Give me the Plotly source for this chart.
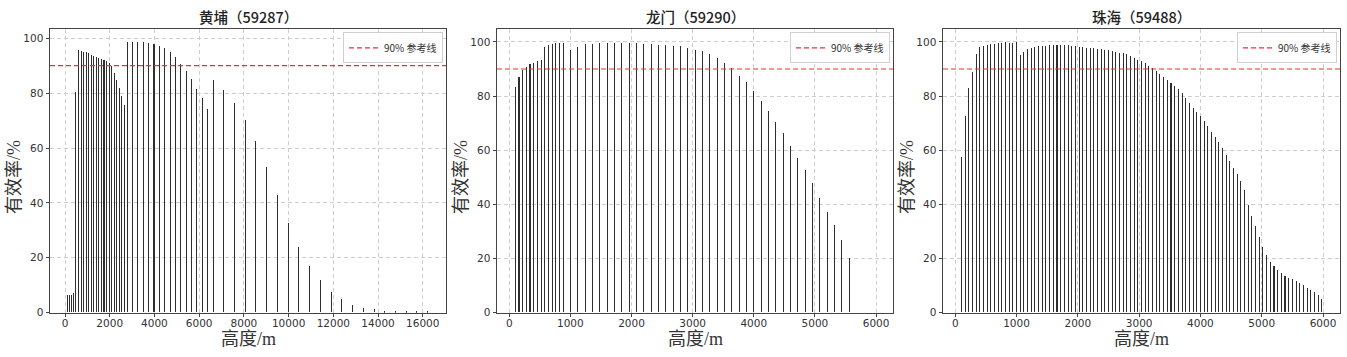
import plotly.graph_objects as go

W, H = 1347, 357

# ---------------- data ----------------
# Panel 1: 黄埔 (59287)
hp_x_low = [120, 210, 300, 390]
hp_v_low = [6.3, 6.3, 6.4, 6.9]
hp_x_g1 = [490 + 114 * i for i in range(20)]
hp_v_g1 = [80.1, 95.5, 95.3, 95.0, 94.7, 94.3, 93.7, 93.2, 92.9, 92.5,
           92.2, 91.8, 91.4, 90.8, 89.7, 87.3, 84.7, 81.8, 78.8, 75.5]
hp_x_g2 = [2780 + 240 * i for i in range(16)]
hp_v_g2 = [98.3, 98.3, 98.3, 98.3, 98.1, 97.6, 97.1, 96.1, 94.9, 92.9,
           90.6, 88.0, 84.8, 81.2, 77.9, 73.9]
hp_x_g3 = [6620 + 480 * i for i in range(21)]
hp_v_g3 = [84.7, 81.0, 76.2, 69.9, 62.3, 52.9, 42.6, 32.4, 23.8, 16.9,
           11.6, 7.5, 4.7, 2.5, 1.7, 1.0, 0.6, 0.4, 0.3, 0.2, 0.2]
hp_x = hp_x_low + hp_x_g1 + hp_x_g2 + hp_x_g3
hp_v = hp_v_low + hp_v_g1 + hp_v_g2 + hp_v_g3

# Panel 2: 龙门 (59290)
lm_x_g1 = [100 + 60 * i for i in range(14)]
lm_v_g1 = [83.0, 87.0, 89.5, 90.5, 91.7, 92.2, 92.7, 93.3, 98.0, 98.8,
           99.2, 99.3, 99.4, 99.3]
lm_x_g2 = [1000 + 120 * i for i in range(39)]
lm_v_g2 = [96.8, 98.0, 98.9, 99.2, 99.5, 99.5, 99.6, 99.6, 99.5, 99.3,
           99.2, 99.0, 98.8, 98.6, 98.4, 98.2, 97.6, 97.0, 96.3, 95.4,
           93.8, 91.9, 90.1, 87.4, 84.9, 81.6, 78.1, 74.4, 70.3, 66.1,
           61.5, 57.0, 52.7, 47.6, 42.1, 37.1, 32.2, 26.5, 20.0]
lm_x = lm_x_g1 + lm_x_g2
lm_v = lm_v_g1 + lm_v_g2

# Panel 3: 珠海 (59488)
zh_x_g1 = [100 + 60 * i for i in range(16)]
zh_v_g1 = [57.3, 72.5, 82.9, 88.6, 95.4, 97.8, 98.4, 98.7, 98.9, 99.1,
           99.4, 99.5, 99.7, 99.6, 99.6, 99.8]
zh_x_g2 = [1060 + 60 * i for i in range(83)]
zh_v_g2 = [95.1, 96.0, 97.1, 97.6, 97.9, 98.2, 98.3, 98.4, 98.6, 98.7,
           98.7, 98.7, 98.7, 98.6, 98.4, 98.2, 98.0, 97.9, 97.7, 97.6,
           97.4, 97.3, 97.1, 96.9, 96.7, 96.4, 96.2, 95.9, 95.6, 95.2,
           94.6, 94.0, 93.3, 92.6, 91.9, 91.0, 90.1, 89.0, 87.9, 86.9,
           85.9, 84.8, 83.7, 82.4, 81.0, 79.0, 77.3, 75.6, 74.0, 72.3,
           70.5, 68.6, 66.7, 64.7, 62.8, 60.5, 57.9, 55.7, 53.4, 51.0,
           48.4, 45.1, 39.5, 35.7, 31.7, 27.9, 23.9, 21.2, 18.7, 16.9,
           15.6, 14.6, 13.5, 12.8, 12.2, 11.5, 10.8, 10.0, 9.1, 8.2,
           7.5, 6.3, 4.8]
zh_x = zh_x_g1 + zh_x_g2
zh_v = zh_v_g1 + zh_v_g2

titles = ["黄埔（59287）", "龙门（59290）", "珠海（59488）"]
ref_level = 90
ref_name = "90% 参考线"
x_label = "高度/m"
y_label = "有效率/%"
y_ticks = [0, 20, 40, 60, 80, 100]
x_ticks_1 = [0, 2000, 4000, 6000, 8000, 10000, 12000, 14000, 16000]
x_ticks_23 = [0, 1000, 2000, 3000, 4000, 5000, 6000]

# ---------------- layout ----------------
panels = [
    dict(x=hp_x, v=hp_v, xr=[-671, 17039], yr=[0, 103.2], ticks=x_ticks_1,
         dom=[50, 446], bw=2),
    dict(x=lm_x, v=lm_v, xr=[-200, 6277], yr=[0, 104.6], ticks=x_ticks_23,
         dom=[497, 893], bw=0.8),
    dict(x=zh_x, v=zh_v, xr=[-200, 6277], yr=[0, 104.6], ticks=x_ticks_23,
         dom=[943, 1340], bw=0.8),
]
top_px, bot_px = 30, 318

fig = go.Figure()
layout = dict(
    width=W, height=H, margin=dict(l=0, r=0, t=0, b=0),
    paper_bgcolor="white", plot_bgcolor="white",
    font=dict(family="Noto Sans CJK SC, DejaVu Sans", size=11, color="#333"),
    bargap=0, barmode="overlay", annotations=[],
)
axis_font = dict(family="DejaVu Sans, Noto Sans CJK SC", size=10.5, color="#333")
for i, p in enumerate(panels):
    n = "" if i == 0 else str(i + 1)
    xa, ya = "x" + n, "y" + n
    lg = "legend" if i == 0 else "legend" + str(i + 1)
    fig.add_trace(go.Bar(
        x=p["x"], y=p["v"], width=p["bw"], xaxis=xa, yaxis=ya,
        marker=dict(color="#2e2e2e", line=dict(width=0)),
        showlegend=False, hoverinfo="x+y"))
    fig.add_trace(go.Scatter(
        x=p["xr"], y=[ref_level, ref_level], xaxis=xa, yaxis=ya, mode="lines",
        line=dict(color="#e8332f", width=1.2, dash="5px,3px"),
        name=ref_name, legend=lg, showlegend=True))
    d0, d1 = p["dom"][0] / W, p["dom"][1] / W
    common = dict(showline=True, linecolor="#444", linewidth=1, mirror=True,
                  ticks="outside", ticklen=3.5, tickcolor="#444",
                  showgrid=True, gridcolor="#cfcfcf", griddash="4px,3px",
                  gridwidth=0.8, zeroline=False, tickfont=axis_font,
                  tickformat="d")
    layout["xaxis" + n] = dict(domain=[d0, d1], range=p["xr"], tickvals=p["ticks"],
                               anchor=ya, ticklabelstandoff=-3, **common)
    layout["yaxis" + n] = dict(domain=[1 - bot_px / H, 1 - top_px / H], range=p["yr"],
                               tickvals=y_ticks, anchor=xa, **common)
    layout[lg] = dict(x=(p["dom"][1] - 3) / W, y=1 - 33 / H, xanchor="right",
                      yanchor="top", bgcolor="rgba(255,255,255,0.9)",
                      bordercolor="#d0d0d0", borderwidth=1,
                      font=dict(family="Noto Sans CJK SC", size=10, color="#333"),
                      itemwidth=30, tracegroupgap=0)
    cx = (p["dom"][0] + p["dom"][1]) / 2 / W
    layout["annotations"].append(dict(
        text=titles[i], x=cx, y=1 - 17 / H, xref="paper", yref="paper",
        showarrow=False, xanchor="center", yanchor="middle",
        font=dict(family="Noto Sans CJK SC", size=14.5, color="#222", weight=500)))
    layout["annotations"].append(dict(
        text=x_label, x=cx, y=1 - 345 / H, xref="paper", yref="paper",
        showarrow=False, xanchor="center", yanchor="middle",
        font=dict(family="Liberation Serif, Noto Sans CJK SC", size=18, color="#333")))
    layout["annotations"].append(dict(
        text=y_label, x=(p["dom"][0] - 36) / W, y=1 - 180 / H, xref="paper", yref="paper",
        showarrow=False, xanchor="center", yanchor="middle", textangle=-90,
        font=dict(family="Liberation Serif, Noto Sans CJK SC", size=18, color="#333")))

fig.update_layout(**layout)
fig.write_html("out.html",
               config={"displayModeBar": False},
               post_script="document.body.style.margin='0';document.body.style.overflow='hidden';")
